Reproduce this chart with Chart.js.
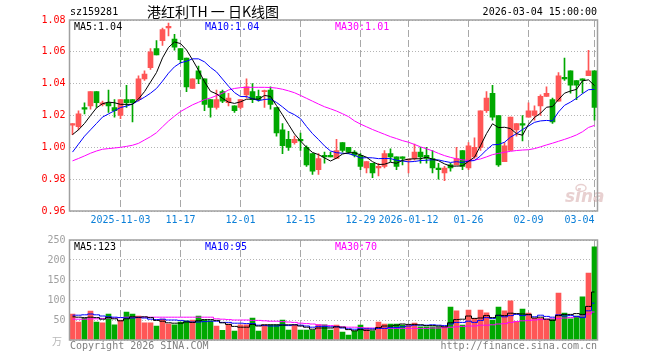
<!DOCTYPE html>
<html><head><meta charset="utf-8">
<script src="https://cdn.jsdelivr.net/npm/chart.js@4.4.1/dist/chart.umd.min.js"></script>
<style>
html,body{margin:0;padding:0;background:#fff;width:660px;height:360px;overflow:hidden}
#wrap{position:relative;width:660px;height:360px}
#pc{position:absolute;left:0;top:0}
#vc{position:absolute;left:0;top:230px}
</style></head><body>
<div id="wrap">
<canvas id="pc" width="660" height="230"></canvas>
<canvas id="vc" width="660" height="130"></canvas>
</div>
<script>
const dates = ['2025-10-22','2025-10-23','2025-10-24','2025-10-27','2025-10-28','2025-10-29','2025-10-30','2025-10-31',
'2025-11-03','2025-11-04','2025-11-05','2025-11-06','2025-11-07','2025-11-10','2025-11-11','2025-11-12','2025-11-13','2025-11-14',
'2025-11-17','2025-11-18','2025-11-19','2025-11-20','2025-11-21','2025-11-24','2025-11-25','2025-11-26','2025-11-27','2025-11-28',
'2025-12-01','2025-12-02','2025-12-03','2025-12-04','2025-12-05','2025-12-08','2025-12-09','2025-12-10','2025-12-11','2025-12-12',
'2025-12-15','2025-12-16','2025-12-17','2025-12-18','2025-12-19','2025-12-22','2025-12-23','2025-12-24','2025-12-25','2025-12-26',
'2025-12-29','2025-12-30','2025-12-31','2026-01-05','2026-01-06','2026-01-07','2026-01-08','2026-01-09',
'2026-01-12','2026-01-13','2026-01-14','2026-01-15','2026-01-16','2026-01-19','2026-01-20','2026-01-21','2026-01-22','2026-01-23',
'2026-01-26','2026-01-27','2026-01-28','2026-01-29','2026-01-30','2026-02-02','2026-02-03','2026-02-04','2026-02-05','2026-02-06',
'2026-02-09','2026-02-10','2026-02-11','2026-02-12','2026-02-13','2026-02-24','2026-02-25','2026-02-26','2026-02-27',
'2026-03-02','2026-03-03','2026-03-04'];

const open  = [1.014,1.013,1.025,1.026,1.035,1.027,1.028,1.025,1.020,1.030,1.030,1.030,1.043,1.050,1.062,1.067,1.075,1.068,1.062,1.056,
1.037,1.048,1.043,1.030,1.025,1.035,1.028,1.026,1.025,1.033,1.035,1.032,1.035,1.036,1.025,1.011,1.005,1.003,1.005,1.000,
0.996,0.986,0.995,0.995,0.993,1.003,1.000,0.997,0.995,0.987,0.990,0.987,0.988,0.996,0.994,0.994,0.992,0.993,0.997,0.995,
0.993,0.987,0.984,0.989,0.989,0.998,0.987,0.994,1.000,1.023,1.034,1.020,0.991,0.998,1.011,1.015,1.019,1.020,1.026,1.032,
1.030,1.029,1.044,1.048,1.042,1.043,1.045,1.048];
const high  = [1.015,1.023,1.028,1.035,1.035,1.029,1.036,1.030,1.030,1.039,1.030,1.045,1.048,1.062,1.067,1.075,1.078,1.071,1.062,1.056,
1.043,1.051,1.043,1.030,1.036,1.036,1.034,1.026,1.030,1.043,1.040,1.036,1.036,1.038,1.025,1.015,1.010,1.007,1.009,1.001,
0.996,0.996,0.997,0.997,1.005,1.003,1.000,0.998,0.996,0.991,0.990,0.990,0.998,0.999,0.994,0.994,0.992,1.002,1.000,1.000,
0.998,0.990,0.988,0.990,1.000,0.998,1.003,1.006,1.023,1.035,1.039,1.020,1.003,1.019,1.015,1.020,1.028,1.026,1.033,1.038,
1.031,1.047,1.056,1.048,1.042,1.043,1.061,1.048];
const low   = [1.008,1.011,1.021,1.024,1.025,1.026,1.022,1.019,1.018,1.025,1.016,1.029,1.042,1.049,1.058,1.064,1.070,1.061,1.053,1.035,
1.037,1.040,1.023,1.019,1.024,1.028,1.026,1.022,1.024,1.031,1.028,1.029,1.025,1.024,1.007,0.996,0.998,1.002,0.998,0.988,
0.983,0.983,0.990,0.994,0.993,0.997,0.996,0.994,0.986,0.984,0.981,0.982,0.987,0.991,0.986,0.989,0.984,0.992,0.990,0.990,
0.984,0.980,0.979,0.985,0.989,0.986,0.986,0.993,0.998,1.022,1.017,0.988,0.991,0.998,1.007,1.004,1.019,1.017,1.020,1.032,
1.015,1.029,1.042,1.034,1.030,1.034,1.045,1.017];
const close = [1.015,1.021,1.024,1.035,1.028,1.028,1.026,1.023,1.030,1.028,1.028,1.043,1.046,1.060,1.058,1.074,1.076,1.063,1.055,1.038,
1.043,1.043,1.027,1.025,1.030,1.029,1.031,1.023,1.030,1.038,1.030,1.030,1.035,1.027,1.009,1.001,1.000,1.005,1.004,0.989,
0.985,0.993,0.994,0.994,0.998,0.998,0.997,0.995,0.988,0.991,0.984,0.988,0.996,0.994,0.988,0.993,0.992,0.997,0.994,0.993,
0.987,0.986,0.987,0.987,0.993,0.988,1.001,1.000,1.023,1.031,1.019,0.989,1.001,1.019,1.015,1.014,1.023,1.023,1.032,1.034,
1.016,1.045,1.043,1.039,1.039,1.042,1.048,1.025];

const ma5 = [1.008,1.011,1.015,1.020,1.0248,1.0274,1.0284,1.028,1.027,1.027,1.027,1.0304,1.035,1.041,1.047,1.0562,1.0628,1.0662,1.0652,1.0612,
1.055,1.0484,1.0412,1.0352,1.0336,1.0308,1.0284,1.0276,1.0286,1.0302,1.0304,1.0302,1.0326,1.032,1.0262,1.0204,1.0144,1.0084,1.004,1.000,
0.9968,0.9954,0.9934,0.9914,0.9932,0.9958,0.9966,0.9966,0.9952,0.9938,0.991,0.9892,0.9894,0.9906,0.990,0.9918,0.9926,0.9928,0.9928,0.9938,
0.9926,0.9916,0.9896,0.9882,0.9882,0.9884,0.9912,0.9938,1.001,1.0086,1.0148,1.0124,1.0126,1.0118,1.0086,1.0076,1.0144,1.0188,1.0214,1.0252,
1.0256,1.030,1.034,1.0354,1.0364,1.0418,1.0424,1.0388];
const ma10 = [0.997,1.002,1.007,1.011,1.015,1.019,1.021,1.023,1.025,1.0259,1.0272,1.0294,1.0315,1.034,1.037,1.0416,1.0466,1.0506,1.0531,1.0541,
1.0556,1.0556,1.0537,1.0502,1.0474,1.0429,1.0384,1.0344,1.0319,1.0319,1.0306,1.0293,1.0301,1.0303,1.0282,1.0254,1.0223,1.0205,1.018,1.0131,
1.0086,1.0049,1.0009,0.9977,0.9966,0.9963,0.996,0.995,0.9933,0.9935,0.9934,0.9929,0.993,0.9929,0.9919,0.9914,0.9909,0.9911,0.9917,0.9919,
0.9922,0.9921,0.9912,0.9905,0.991,0.9905,0.9914,0.9917,0.9946,0.9984,1.0016,1.0018,1.0032,1.0064,1.0086,1.0112,1.0134,1.0157,1.0166,1.0169,
1.0166,1.0222,1.0264,1.0284,1.0308,1.0337,1.0362,1.0364];
const ma30 = [0.9915,0.993,0.9946,0.9963,0.9977,0.9988,0.9992,0.9996,1.000,1.0006,1.0013,1.0025,1.0046,1.0067,1.0092,1.0129,1.0165,1.0196,1.0225,1.0246,
1.0267,1.0283,1.030,1.031,1.0325,1.034,1.036,1.037,1.0375,1.0377,1.0377,1.0377,1.0377,1.0376,1.0372,1.0365,1.0355,1.0343,1.0326,1.0308,
1.029,1.0272,1.0255,1.0242,1.0228,1.0211,1.0193,1.0166,1.0146,1.0129,1.0112,1.0097,1.0082,1.0067,1.0055,1.0042,1.0032,1.0018,1.0003,0.9991,
0.9978,0.9962,0.9948,0.9937,0.9928,0.9921,0.9918,0.992,0.9927,0.994,0.9954,0.9962,0.9969,0.9975,0.998,0.9983,0.9985,0.9992,1.0003,1.0015,
1.0026,1.0038,1.005,1.0063,1.0078,1.0098,1.0125,1.0138];

const volume = [65,45,54,72,45,43,65,38,50,70, 65,60,43,43,35,52,40,38,45,48, 50,60,50,48,35,24,40,22,38,38,
55,22,38,38,38,50,25,37,25,25, 25,38,38,25,37,20,12,22,37,30, 22,45,40,40,40,37,37,42,33,33,
33,33,33,82,73,37,75,54,75,68, 50,82,73,98,46,77,67,54,54,50, 52,117,67,53,60,108,167,233];
const volMa5 = [58,57,56,57,56,52,56,53,48,53, 58,57,58,56,49,47,43,42,42,45, 44,48,51,51,49,43,39,34,32,32,
39,35,38,38,38,37,38,38,35,32, 27,30,30,30,33,32,26,23,26,24, 25,31,35,35,37,40,39,39,38,36,
36,35,33,43,51,52,60,54,55,61, 56,62,61,67,66,65,64,55,57,52, 49,61,64,64,66,64,84,120];
const volMa10 = [62,62,63,65,63,60,58,57,56,55, 55,56,55,52,51,52,50,50,49,47, 45,45,46,47,47,44,44,42,42,41,
41,37,36,35,35,38,36,38,37,35, 32,34,34,33,33,30,28,27,28,28, 28,29,29,31,31,33,35,37,37,37,
38,37,36,40,44,44,47,44,49,56, 54,61,58,61,64,61,63,58,62,59, 57,63,60,61,59,56,73,92];
const volMa30 = [52,52,52,53,53,54,55,55,56,57, 57,57,57,57,57,57,57,57,57,57, 57,57,57,57,53,52,51,50,50,50,
49,49,48,47,47,46,45,44,42,41, 40,38,37,36,34,33,32,32,31,30, 30,29,29,29,29,29,29,29,29,29,
30,30,31,32,33,34,35,35,37,37, 38,40,41,44,46,48,49,50,51,52, 53,54,55,56,58,60,65,70];

const tickDates = ['2025-11-03','2025-11-17','2025-12-01','2025-12-15','2025-12-29','2026-01-12','2026-01-26','2026-02-09','2026-03-04'];
const tickText  = ['2025-11-03','11-17','12-01','12-15','12-29','2026-01-12','01-26','02-09','03-04'];
const priceTicks = [0.96,0.98,1.00,1.02,1.04,1.06,1.08];
const volTicks = [0,50,100,150,200,250];

const UP = '#ff5656', DOWN = '#00a800';
const MONO = '"DejaVu Sans Mono", monospace';
const candleColor = open.map((o,i) => close[i] >= o ? UP : DOWN);
const isTick = i => tickDates.indexOf(dates[i]) >= 0;
const LEFT = 69.5, RIGHT_PAD = 62.5;

function txt(ctx, s, x, y, color, font, align) {
  ctx.fillStyle = color; ctx.font = font; ctx.textAlign = align || 'left'; ctx.textBaseline = 'middle';
  ctx.fillText(s, x, y);
}
function frame(chart) {
  const {ctx, chartArea:a} = chart;
  ctx.save(); ctx.strokeStyle = '#a0a0a0'; ctx.lineWidth = 1.5;
  ctx.strokeRect(a.left, a.top, a.right - a.left, a.bottom - a.top);
  ctx.restore();
}

const pricePlugin = {
  id: 'priceDeco',
  beforeDatasetsDraw(chart) {
    const {ctx} = chart;
    ctx.save();
    ctx.fillStyle = 'rgba(205,150,150,0.45)';
    ctx.font = 'italic bold 17px "DejaVu Sans", sans-serif';
    ctx.textAlign = 'left'; ctx.textBaseline = 'alphabetic';
    ctx.fillText('sina', 565, 202);
    ctx.strokeStyle = 'rgba(205,150,150,0.45)'; ctx.lineWidth = 1.5;
    ctx.beginPath(); ctx.ellipse(581, 188, 5, 3.5, 0, 0, Math.PI*2); ctx.stroke();
    ctx.restore();
  },
  afterDraw(chart) {
    const {ctx} = chart;
    frame(chart);
    ctx.save();
    txt(ctx, 'sz159281', 70, 12, '#000', '10px ' + MONO);
    txt(ctx, '港红利TH 一 日K线图', 213, 12, '#000', '14px "Noto Sans CJK SC", sans-serif', 'center');
    txt(ctx, '2026-03-04 15:00:00', 597, 12, '#000', '10px ' + MONO, 'right');
    txt(ctx, 'MA5:' + ma5[ma5.length-1].toFixed(2), 74, 27, '#000', '10px ' + MONO);
    txt(ctx, 'MA10:' + ma10[ma10.length-1].toFixed(2), 205, 27, '#0000ff', '10px ' + MONO);
    txt(ctx, 'MA30:' + ma30[ma30.length-1].toFixed(2), 335, 27, '#ff00ff', '10px ' + MONO);
    ctx.restore();
  }
};

const volPlugin = {
  id: 'volDeco',
  afterDraw(chart) {
    const {ctx} = chart;
    frame(chart);
    ctx.save();
    txt(ctx, 'MA5:' + Math.round(volMa5[volMa5.length-1]+3), 74, 17, '#000', '10px ' + MONO);
    txt(ctx, 'MA10:' + Math.round(volMa10[volMa10.length-1]+3), 205, 17, '#0000ff', '10px ' + MONO);
    txt(ctx, 'MA30:' + volMa30[volMa30.length-1], 335, 17, '#ff00ff', '10px ' + MONO);
    txt(ctx, '万', 57, 111, '#b8b8b8', '10px "Noto Sans CJK SC", sans-serif', 'center');
    txt(ctx, 'Copyright 2026 SINA.COM', 70, 116, '#808080', '10px ' + MONO);
    txt(ctx, 'http://finance.sina.com.cn', 597, 116, '#808080', '10px ' + MONO, 'right');
    ctx.restore();
  }
};

function lineDs(data, color, stepped) {
  return {type:'line', data, borderColor:color, borderWidth:1, pointRadius:0, tension:0, order:0, stepped: stepped || false};
}
const xGrid = {offset:false, drawTicks:false, lineWidth:1,
  color: c => isTick(c.index) ? '#a8a8a8' : 'rgba(0,0,0,0)'};

new Chart(document.getElementById('pc'), {
  type: 'bar',
  data: {
    labels: dates,
    datasets: [
      lineDs(ma5, '#000000'),
      lineDs(ma10, '#0000ff'),
      lineDs(ma30, '#ff00ff'),
      {type:'bar', data: dates.map((d,i) => [open[i], close[i]]), backgroundColor: candleColor,
       barThickness:5, grouped:false, order:1, minBarLength:1, borderWidth:0},
      {type:'bar', data: dates.map((d,i) => [low[i], high[i]]), backgroundColor: candleColor,
       barThickness:1, grouped:false, order:2, borderWidth:0}
    ]
  },
  options: {
    responsive:false, animation:false, events:[],
    layout:{padding:{top:20, right:RIGHT_PAD, left:0, bottom:0}},
    plugins:{legend:{display:false}, tooltip:{enabled:false}},
    scales:{
      x:{type:'category', offset:true, grid:xGrid, border:{display:false, dash:[7,3]},
         ticks:{autoSkip:false, maxRotation:0, minRotation:0, align:'inner', padding:3, color:'#0a7fd8',
                font:{family:MONO, size:10},
                callback:(v,i) => { const k = tickDates.indexOf(dates[i]); return k >= 0 ? tickText[k] : ''; }},
         afterFit: s => { s.height = 19; }},
      y:{min:priceTicks[0], max:priceTicks[priceTicks.length-1], beginAtZero:false,
         afterBuildTicks: s => { s.ticks = priceTicks.map(v => ({value:v})); },
         ticks:{color:'#ff0000', padding:4, font:{family:MONO, size:10}, callback: v => Number(v).toFixed(2)},
         grid:{color:'#b4b4b4', drawTicks:false, lineWidth:1}, border:{display:false, dash:[1,2]},
         afterFit: s => { s.width = LEFT; }}
    }
  },
  plugins:[pricePlugin]
});

new Chart(document.getElementById('vc'), {
  type: 'bar',
  data: {
    labels: dates,
    datasets: [
      lineDs(volMa5, '#000000', 'middle'),
      lineDs(volMa10, '#0000ff', 'middle'),
      lineDs(volMa30, '#ff00ff', 'middle'),
      {type:'bar', data: volume, backgroundColor: candleColor, barThickness:5, grouped:false, order:1, borderWidth:0}
    ]
  },
  options: {
    responsive:false, animation:false, events:[],
    layout:{padding:{top:10, right:RIGHT_PAD, left:0, bottom:20}},
    plugins:{legend:{display:false}, tooltip:{enabled:false}},
    scales:{
      x:{type:'category', offset:true, grid:xGrid, border:{display:false, dash:[7,3]},
         ticks:{display:false, autoSkip:false}, afterFit: s => { s.height = 0; }},
      y:{min:volTicks[0], max:volTicks[volTicks.length-1], beginAtZero:true,
         afterBuildTicks: s => { s.ticks = volTicks.map(v => ({value:v})); },
         ticks:{color:'#a0a0a0', padding:4, font:{family:MONO, size:10}, callback: v => v === 0 ? '' : String(v)},
         grid:{color:'#b4b4b4', drawTicks:false, lineWidth:1}, border:{display:false, dash:[1,2]},
         afterFit: s => { s.width = LEFT; }}
    }
  },
  plugins:[volPlugin]
});
</script>
</body></html>
